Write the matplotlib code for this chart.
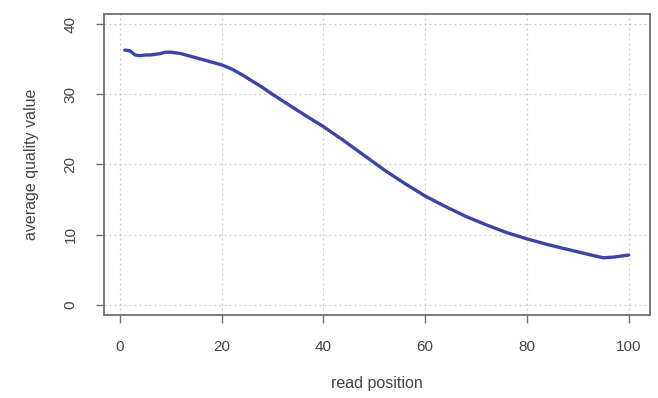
import matplotlib
matplotlib.use("Agg")
import matplotlib.pyplot as plt

# mean quality per read position
position = [1, 2, 3, 4, 5, 6, 7, 8, 9, 10, 12, 14, 16, 18, 20, 22, 24, 26, 28, 30,
            33, 36, 40, 44, 48, 52, 56, 60, 64, 68, 72, 76, 80, 84, 88, 92, 95, 97, 100]
quality = [36.3, 36.2, 35.6, 35.5, 35.6, 35.6, 35.7, 35.8, 36.0, 36.0, 35.8, 35.4,
           35.0, 34.6, 34.2, 33.6, 32.8, 31.9, 31.0, 30.0, 28.6, 27.2, 25.4, 23.4,
           21.3, 19.2, 17.3, 15.5, 14.0, 12.6, 11.4, 10.3, 9.4, 8.6, 7.9, 7.2, 6.7,
           6.8, 7.1]

xticks = [0, 20, 40, 60, 80, 100]
yticks = [0, 10, 20, 30, 40]

plt.rcParams['font.family'] = ['Liberation Sans', 'DejaVu Sans']

fig = plt.figure(figsize=(6.58, 3.98), dpi=100)
ax = fig.add_axes([0.158, 0.2085, 0.830, 0.7565])

ax.plot(position, quality, color='#3a45a6', linewidth=2.4, solid_capstyle='round')

ax.set_xlim(-3.1, 104.2)
ax.set_ylim(-1.45, 41.45)
ax.set_xticks(xticks)
ax.set_yticks(yticks)
ax.grid(True, linestyle=(0, (1.5, 2.5)), color='#c8c8c8', linewidth=0.9)
ax.set_axisbelow(True)

for s in ax.spines.values():
    s.set_color('#707070')
    s.set_linewidth(1.3)

ax.tick_params(axis='both', direction='out', length=6, width=1.0, colors='#707070',
               labelcolor='#444444', labelsize=11)
ax.tick_params(axis='x', pad=12)
ax.tick_params(axis='y', pad=13)
for lab in ax.get_yticklabels():
    lab.set_rotation(90)
    lab.set_va('center')

ax.set_xlabel('read position', fontsize=11.5, color='#444444', labelpad=16)
ax.set_ylabel('average quality value', fontsize=11.5, color='#444444', labelpad=18)

fig.savefig('out.png', dpi=100)
